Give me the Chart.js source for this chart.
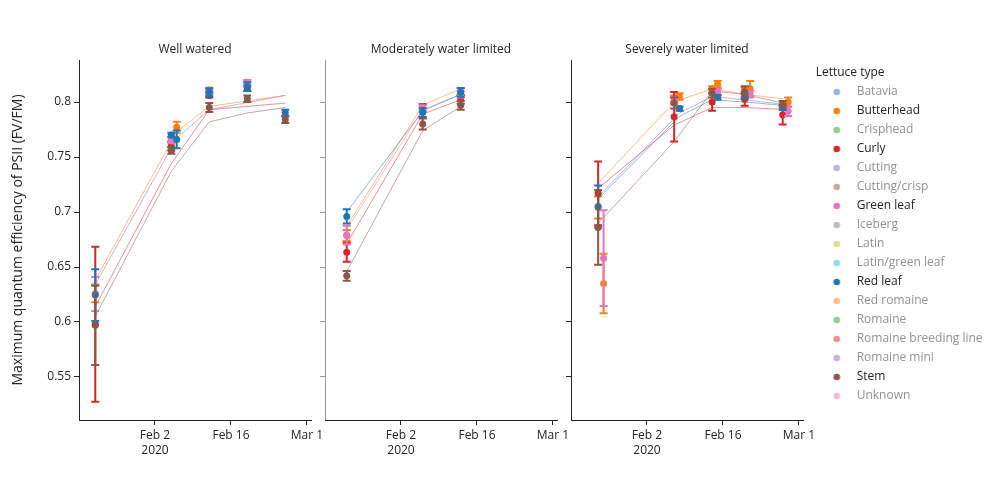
<!DOCTYPE html>
<html>
<head>
<meta charset="utf-8">
<script src="https://cdn.jsdelivr.net/npm/chart.js@4.4.1/dist/chart.umd.min.js"></script>
<style>html,body{margin:0;padding:0;background:#fff}canvas{display:block}</style>
</head>
<body>
<canvas id="c" width="1000" height="500"></canvas>
<script>
// ---------- data ----------
const panelTitles = ['Well watered', 'Moderately water limited', 'Severely water limited'];
const lettuceTypes = ['Batavia','Butterhead','Crisphead','Curly','Cutting','Cutting/crisp','Green leaf','Iceberg','Latin','Latin/green leaf','Red leaf','Red romaine','Romaine','Romaine breeding line','Romaine mini','Stem','Unknown'];
const typeColors = ['#1f77b4','#ff7f0e','#2ca02c','#d62728','#9467bd','#8c564b','#e377c2','#7f7f7f','#bcbd22','#17becf','#1f77b4','#ff7f0e','#2ca02c','#d62728','#9467bd','#8c564b','#e377c2'];
const shownTypes = ['Butterhead','Curly','Green leaf','Red leaf','Stem'];
const yTicks = [0.55, 0.6, 0.65, 0.7, 0.75, 0.8];
const xTickDates = ['2020-02-02', '2020-02-16', '2020-03-01'];
const yTitle = 'Maximum quantum efficiency of PSII (FV/FM)';
const legendTitle = 'Lettuce type';

// [date, mean, error]
// Well watered
const wwButterhead = [['2020-01-22',0.626,0.008],['2020-02-06',0.777,0.005],['2020-02-12',0.811,0.002],['2020-02-19',0.818,0.002]];
const wwCurly      = [['2020-01-22',0.598,0.0705],['2020-02-05',0.760,0.004],['2020-02-12',0.806,0.002],['2020-02-19',0.812,0.002]];
const wwGreenLeaf  = [['2020-01-22',0.6255,0.0155],['2020-02-05',0.7655,0.003],['2020-02-12',0.809,0.002],['2020-02-19',0.8175,0.002]];
const wwRedLeaf    = [['2020-01-22',0.6245,0.0235],['2020-02-05',0.770,0.002],['2020-02-06',0.766,0.008],['2020-02-12',0.809,0.0035],['2020-02-19',0.814,0.004],['2020-02-26',0.790,0.003]];
const wwStem       = [['2020-01-22',0.597,0.036],['2020-02-05',0.756,0.003],['2020-02-12',0.795,0.004],['2020-02-19',0.803,0.003],['2020-02-26',0.784,0.003]];
// Moderately water limited
const mwButterhead = [['2020-01-23',0.6786,0.005],['2020-02-06',0.795,0.003],['2020-02-13',0.8095,0.003]];
const mwCurly      = [['2020-01-23',0.6634,0.0086],['2020-02-06',0.792,0.006],['2020-02-13',0.8024,0.004]];
const mwGreenLeaf  = [['2020-01-23',0.679,0.0085],['2020-02-06',0.794,0.003],['2020-02-13',0.807,0.003]];
const mwRedLeaf    = [['2020-01-23',0.696,0.0064],['2020-02-06',0.7906,0.004],['2020-02-13',0.8088,0.004]];
const mwStem       = [['2020-01-23',0.642,0.0044],['2020-02-06',0.780,0.005],['2020-02-13',0.797,0.004]];
// Severely water limited
const swButterhead = [['2020-01-24',0.704,0.010],['2020-01-25',0.635,0.027],['2020-02-07',0.803,0.003],['2020-02-08',0.805,0.003],['2020-02-14',0.8124,0.002],['2020-02-15',0.816,0.003],['2020-02-20',0.8124,0.002],['2020-02-21',0.812,0.007],['2020-02-28',0.800,0.004]];
const swCurly      = [['2020-01-24',0.717,0.029],['2020-02-07',0.7865,0.0225],['2020-02-14',0.800,0.008],['2020-02-20',0.8025,0.006],['2020-02-27',0.7885,0.009]];
const swGreenLeaf  = [['2020-01-25',0.658,0.0435],['2020-02-07',0.801,0.003],['2020-02-15',0.809,0.003],['2020-02-21',0.807,0.003],['2020-02-28',0.7915,0.0043]];
const swRedLeaf    = [['2020-01-24',0.705,0.019],['2020-02-08',0.794,0.002],['2020-02-15',0.8043,0.002],['2020-02-20',0.805,0.002],['2020-02-27',0.7948,0.002]];
const swStem       = [['2020-01-24',0.686,0.034],['2020-02-07',0.799,0.005],['2020-02-14',0.808,0.004],['2020-02-20',0.809,0.005],['2020-02-27',0.798,0.003]];

// thin trend lines [date, value]
const wwRedRomaineLine   = [['2020-01-22',0.638],['2020-02-06',0.773],['2020-02-12',0.796],['2020-02-26',0.806]];
const wwRomaineMiniLine  = [['2020-01-22',0.634],['2020-02-06',0.767],['2020-02-12',0.793],['2020-02-26',0.806]];
const wwBreedingLine     = [['2020-01-22',0.614],['2020-02-05',0.744],['2020-02-12',0.793],['2020-02-26',0.799]];
const wwCuttingCrispLine = [['2020-01-22',0.605],['2020-02-05',0.737],['2020-02-12',0.782],['2020-02-19',0.790],['2020-02-26',0.795]];

const mwBataviaLine      = [['2020-01-23',0.700],['2020-02-06',0.792],['2020-02-13',0.807]];
const mwRedRomaineLine   = [['2020-01-23',0.687],['2020-02-06',0.797],['2020-02-13',0.812]];
const mwUnknownLine      = [['2020-01-23',0.684],['2020-02-06',0.793],['2020-02-13',0.807]];
const mwBreedingLine     = [['2020-01-23',0.671],['2020-02-06',0.789],['2020-02-13',0.802]];
const mwCuttingCrispLine = [['2020-01-23',0.646],['2020-02-06',0.774],['2020-02-13',0.796]];

const swRedRomaineLine   = [['2020-01-24',0.726],['2020-02-07',0.800],['2020-02-14',0.812],['2020-02-20',0.807],['2020-02-27',0.803]];
const swRomaineMiniLine  = [['2020-01-24',0.714],['2020-02-08',0.790],['2020-02-14',0.805],['2020-02-20',0.802],['2020-02-27',0.798]];
const swBataviaLine      = [['2020-01-24',0.712],['2020-02-08',0.787],['2020-02-14',0.802],['2020-02-20',0.800],['2020-02-27',0.797]];
const swBreedingLine     = [['2020-01-24',0.7215],['2020-02-07',0.779],['2020-02-14',0.795],['2020-02-20',0.795],['2020-02-27',0.7933]];
const swCuttingCrispLine = [['2020-01-24',0.6897],['2020-02-07',0.764],['2020-02-14',0.810],['2020-02-20',0.807],['2020-02-27',0.799]];

// ---------- helpers ----------
const DAY0 = Date.UTC(2020, 0, 1);
const MONTHS = ['Jan','Feb','Mar','Apr','May','Jun','Jul','Aug','Sep','Oct','Nov','Dec'];
const toDay = s => { const [y, m, d] = s.split('-').map(Number); return (Date.UTC(y, m - 1, d) - DAY0) / 86400000; };
const rgba = (hex, a) => { const n = parseInt(hex.slice(1), 16); return `rgba(${(n >> 16) & 255},${(n >> 8) & 255},${n & 255},${a})`; };
const colorOf = t => typeColors[lettuceTypes.indexOf(t)];

const INK = 'rgb(36,36,36)';
const INK_OFF = 'rgb(146,146,146)';
const FONT = "'Open Sans', 'DejaVu Sans', sans-serif";
const xMin = toDay('2020-01-19');
const xMax = xMin + 42.74;
const yMin = 0.5109, yMax = 0.8382;
const xTickValues = xTickDates.map(toDay);
const fmtDate = v => {
  const dt = new Date(DAY0 + v * 86400000);
  const s = MONTHS[dt.getUTCMonth()] + ' ' + dt.getUTCDate();
  return v === xTickValues[0] ? [s, '2020'] : s;
};

const panels = [
  { xAxis: 'x1',
    markers: [['Butterhead', wwButterhead], ['Curly', wwCurly], ['Green leaf', wwGreenLeaf], ['Red leaf', wwRedLeaf], ['Stem', wwStem]],
    lines: [['Red romaine', wwRedRomaineLine], ['Romaine mini', wwRomaineMiniLine], ['Romaine breeding line', wwBreedingLine], ['Cutting/crisp', wwCuttingCrispLine]] },
  { xAxis: 'x2',
    markers: [['Butterhead', mwButterhead], ['Curly', mwCurly], ['Green leaf', mwGreenLeaf], ['Red leaf', mwRedLeaf], ['Stem', mwStem]],
    lines: [['Batavia', mwBataviaLine], ['Red romaine', mwRedRomaineLine], ['Unknown', mwUnknownLine], ['Romaine breeding line', mwBreedingLine], ['Cutting/crisp', mwCuttingCrispLine]] },
  { xAxis: 'x3',
    markers: [['Butterhead', swButterhead], ['Curly', swCurly], ['Green leaf', swGreenLeaf], ['Red leaf', swRedLeaf], ['Stem', swStem]],
    lines: [['Red romaine', swRedRomaineLine], ['Romaine mini', swRomaineMiniLine], ['Batavia', swBataviaLine], ['Romaine breeding line', swBreedingLine], ['Cutting/crisp', swCuttingCrispLine]] }
];

const datasets = [];
panels.forEach(p => {
  p.lines.forEach(([t, pts]) => datasets.push({
    label: t, showLine: true, xAxisID: p.xAxis, yAxisID: 'y',
    data: pts.map(([d, v]) => ({ x: toDay(d), y: v })),
    borderColor: rgba(colorOf(t), 0.5), backgroundColor: rgba(colorOf(t), 0.5),
    borderWidth: 1, pointRadius: 0, tension: 0, order: 10
  }));
  p.markers.forEach(([t, pts]) => datasets.push({
    label: t, xAxisID: p.xAxis, yAxisID: 'y', errorBars: true,
    data: pts.map(([d, v, e]) => ({ x: toDay(d), y: v, e: e })),
    borderColor: colorOf(t), backgroundColor: colorOf(t),
    pointBackgroundColor: colorOf(t), pointBorderWidth: 0, pointRadius: 3.5,
    order: 5 - shownTypes.indexOf(t)
  }));
});

// ---------- plugins ----------
const errorBarPlugin = {
  id: 'errorBars',
  beforeDatasetDraw(chart, args) {
    const ds = chart.data.datasets[args.index];
    if (!ds.errorBars) return;
    const xs = chart.scales[args.meta.xAxisID], ys = chart.scales[args.meta.yAxisID];
    const ctx = chart.ctx;
    ctx.save();
    ctx.strokeStyle = ds.borderColor;
    ctx.lineWidth = 2;
    ds.data.forEach(p => {
      const x = xs.getPixelForValue(p.x);
      const yt = ys.getPixelForValue(p.y + p.e), yb = ys.getPixelForValue(p.y - p.e);
      ctx.beginPath();
      ctx.moveTo(x, yt); ctx.lineTo(x, yb);
      ctx.moveTo(x - 4, yt); ctx.lineTo(x + 4, yt);
      ctx.moveTo(x - 4, yb); ctx.lineTo(x + 4, yb);
      ctx.stroke();
    });
    ctx.restore();
  }
};

function dot(color, alpha) {
  const c = document.createElement('canvas');
  c.width = 8; c.height = 8;
  const g = c.getContext('2d');
  g.globalAlpha = alpha;
  g.fillStyle = color;
  g.beginPath(); g.arc(4, 4, 3.3, 0, Math.PI * 2); g.fill();
  return c;
}

// ---------- scales ----------
const W_PANEL = 232, W_GAP = 14, W_TAIL = 12.7;
const PLOT_LEFT = 79;
const LEGEND_LEFT = PLOT_LEFT + 3 * W_PANEL + 2 * W_GAP + W_TAIL;
const setYTicks = s => { s.ticks = yTicks.map(v => ({ value: v })); };
const bottomAxis = () => ({
  type: 'linear', position: 'bottom', stack: 's', stackWeight: W_PANEL, min: xMin, max: xMax,
  afterBuildTicks: s => { s.ticks = xTickValues.map(v => ({ value: v })); },
  afterFit: s => { s.height = 80; },
  grid: { display: true, drawOnChartArea: false, drawTicks: true, tickLength: 5, tickColor: INK, tickWidth: 1 },
  border: { display: true, color: INK, width: 1 },
  ticks: { autoSkip: false, maxRotation: 0, minRotation: 0, padding: 3, color: INK,
           font: { family: FONT, size: 12, lineHeight: 1.25 }, callback: v => fmtDate(v) }
});
const spacer = (pos, w, h) => ({
  type: 'linear', position: pos, stack: 's', stackWeight: w, min: 0, max: 1,
  grid: { display: false }, border: { display: false }, ticks: { display: false },
  afterFit: s => { s.height = h; }
});
const topAxis = text => Object.assign(spacer('top', W_PANEL, 60), {
  title: { display: true, text, color: INK, font: { family: FONT, size: 12, lineHeight: 1.2 }, padding: { top: 42, bottom: 0 } }
});
const sideY = (xId, color) => ({
  type: 'linear', position: { [xId]: xMin }, min: yMin, max: yMax, afterBuildTicks: setYTicks,
  grid: { display: true, drawOnChartArea: false, drawTicks: true, tickLength: 5, tickColor: color },
  border: { display: true, color: color, width: 1 }, ticks: { display: false }
});

const scales = {
  y: {
    type: 'linear', position: 'left', min: yMin, max: yMax, afterBuildTicks: setYTicks,
    afterFit: s => { s.width = PLOT_LEFT; },
    grid: { display: true, drawOnChartArea: false, drawTicks: true, tickLength: 5, tickColor: INK },
    border: { display: true, color: INK, width: 1 },
    ticks: { padding: 3, color: INK, font: { family: FONT, size: 12 }, callback: v => String(v) },
    title: { display: true, text: yTitle, color: INK, font: { family: FONT, size: 14, lineHeight: 1.2 }, padding: { top: 9.6, bottom: 0 } }
  },
  y2: sideY('x2', '#9a9a9a'),
  y3: sideY('x3', INK),
  x1: bottomAxis(),
  gb1: spacer('bottom', W_GAP, 80),
  x2: bottomAxis(),
  gb2: spacer('bottom', W_GAP, 80),
  x3: bottomAxis(),
  gb3: spacer('bottom', W_TAIL, 80),
  // top row (declared right-to-left; top boxes are laid out in reverse order)
  tt: spacer('top', W_TAIL, 60),
  t3: topAxis(panelTitles[2]),
  tg2: spacer('top', W_GAP, 60),
  t2: topAxis(panelTitles[1]),
  tg1: spacer('top', W_GAP, 60),
  t1: topAxis(panelTitles[0])
};

// ---------- chart ----------
const chart = new Chart(document.getElementById('c'), {
  type: 'scatter',
  data: { datasets },
  plugins: [errorBarPlugin],
  options: {
    responsive: false, animation: false, devicePixelRatio: 1, events: [],
    layout: { padding: { left: 0, top: 0, bottom: 0, right: 0 } },
    scales,
    plugins: {
      tooltip: { enabled: false },
      legend: {
        position: 'right', align: 'start', maxWidth: 400, onClick: () => {},
        title: { display: true, position: 'start', text: legendTitle, color: INK,
                 font: { family: FONT, size: 12, lineHeight: 1 }, padding: { top: 67, bottom: 0 } },
        labels: {
          usePointStyle: true, pointStyleWidth: 28, padding: 7, color: INK,
          font: { family: FONT, size: 12 },
          generateLabels: () => lettuceTypes.map((t, i) => {
            const on = shownTypes.includes(t);
            return { text: t, fillStyle: typeColors[i], strokeStyle: typeColors[i], lineWidth: 0,
                     pointStyle: dot(typeColors[i], on ? 1 : 0.5), rotation: 0,
                     fontColor: on ? INK : INK_OFF, hidden: false };
          })
        }
      }
    }
  }
});
// put the legend box right after the plot area by padding the remaining space on the right
chart.options.layout.padding.right = Math.max(0, 1000 - LEGEND_LEFT - chart.legend.width);
chart.update();
</script>
</body>
</html>
